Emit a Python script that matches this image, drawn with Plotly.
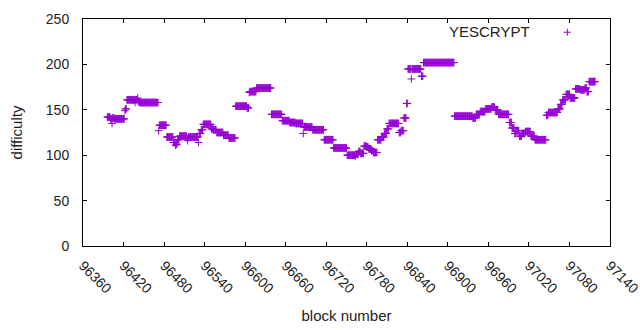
import plotly.graph_objects as go

# Difficulty per block, stored as runs of constant difficulty
run_start = [96396, 96401, 96403, 96404, 96407, 96422, 96423, 96425, 96437, 96438,
             96441, 96442, 96444, 96472, 96473, 96484, 96494, 96497, 96498, 96500,
             96503, 96514, 96515, 96516, 96531, 96532, 96535, 96538, 96550, 96553,
             96558, 96568, 96576, 96586, 96603, 96606, 96607, 96617, 96639, 96655,
             96666, 96675, 96686, 96687, 96700, 96717, 96731, 96751, 96763, 96764,
             96768, 96771, 96776, 96780, 96783, 96787, 96790, 96796, 96802, 96806,
             96810, 96813, 96828, 96831, 96835, 96839, 96841, 96846, 96847, 96861,
             96864, 96910, 96937, 96942, 96948, 96956, 96965, 96970, 96975, 96991,
             96995, 96999, 97001, 97006, 97010, 97015, 97023, 97029, 97046, 97049,
             97063, 97067, 97070, 97075, 97081, 97089, 97096, 97103, 97106, 97109]
run_end = [96400, 96402, 96403, 96406, 96421, 96422, 96424, 96436, 96437, 96440,
           96441, 96443, 96471, 96472, 96483, 96493, 96496, 96497, 96499, 96502,
           96513, 96514, 96515, 96530, 96531, 96534, 96537, 96549, 96552, 96557,
           96567, 96575, 96585, 96602, 96605, 96606, 96616, 96638, 96654, 96665,
           96674, 96685, 96686, 96699, 96716, 96730, 96750, 96762, 96763, 96767,
           96770, 96775, 96779, 96782, 96786, 96789, 96795, 96801, 96805, 96809,
           96812, 96827, 96830, 96834, 96838, 96840, 96845, 96846, 96860, 96863,
           96909, 96936, 96941, 96947, 96955, 96964, 96969, 96974, 96990, 96994,
           96998, 97000, 97005, 97009, 97014, 97022, 97028, 97045, 97048, 97062,
           97066, 97069, 97074, 97080, 97088, 97095, 97102, 97105, 97108, 97118]
run_difficulty = [142, 140, 135, 141, 140, 149, 151, 161, 158, 161,
                  163, 159, 158, 127, 133, 120, 114, 111, 112, 117,
                  121, 119, 116, 120, 114, 124, 128, 134, 129, 128,
                  125, 122, 119, 154, 152, 169, 170, 174, 145, 138,
                  136, 135, 124, 131, 128, 117, 108, 100, 99, 101,
                  104, 102, 110, 109, 107, 105, 103, 117, 120, 124,
                  129, 135, 125, 127, 141, 157, 195, 184, 195, 187,
                  202, 143, 141, 145, 148, 151, 153, 150, 145, 136,
                  130, 124, 127, 121, 124, 126, 121, 117, 144, 147,
                  151, 156, 161, 167, 163, 173, 172, 174, 170, 181]

x_ticks = [96360, 96420, 96480, 96540, 96600, 96660, 96720, 96780, 96840,
           96900, 96960, 97020, 97080, 97140]
y_ticks = [0, 50, 100, 150, 200, 250]
series_name = "YESCRYPT"

blocks, diffs = [], []
for s, e, v in zip(run_start, run_end, run_difficulty):
    for b in range(s, e + 1):
        blocks.append(b)
        diffs.append(v)

color = "#9400D3"
FONT = "Liberation Sans, Arial, sans-serif"

fig = go.Figure()
fig.add_trace(go.Scatter(
    x=blocks, y=diffs, mode="markers", name=series_name, showlegend=False,
    marker=dict(symbol="cross-thin", size=5.5, color=color,
                line=dict(color=color, width=1)),
))

axis_common = dict(showgrid=False, zeroline=False, showline=True, mirror="ticks",
                   linecolor="black", linewidth=1, ticks="inside", ticklen=4,
                   tickcolor="black", tickwidth=1, automargin=False,
                   ticklabeloverflow="allow",
                   tickfont=dict(family=FONT, size=14, color="#222"))

fig.update_layout(
    width=640, height=330,
    margin=dict(l=83, r=30, t=19, b=84),
    paper_bgcolor="white", plot_bgcolor="white",
    font=dict(family=FONT, size=14, color="#222"),
    xaxis=dict(range=[x_ticks[0], x_ticks[-1]], tickvals=x_ticks,
               ticktext=[str(t) for t in x_ticks], tickangle=45,
               ticklabelstandoff=5,
               title=dict(text="block number", font=dict(family=FONT, size=15), standoff=14),
               **axis_common),
    yaxis=dict(range=[y_ticks[0], y_ticks[-1]], tickvals=y_ticks,
               ticklabelstandoff=10,
               title=dict(text="difficulty", font=dict(family=FONT, size=15), standoff=19),
               **axis_common),
    annotations=[dict(text=series_name, xref="paper", yref="paper", x=0.852, y=0.946,
                      xanchor="right", yanchor="middle", showarrow=False,
                      font=dict(family=FONT, size=15, color="#222"))],
    shapes=[
        dict(type="line", xref="paper", yref="paper", x0=0.912, x1=0.926,
             y0=0.9417, y1=0.9417, line=dict(color=color, width=1)),
        dict(type="line", xref="paper", yref="paper", x0=0.919, x1=0.919,
             y0=0.926, y1=0.957, line=dict(color=color, width=1)),
    ],
)

fig.write_html("out.html", config={"displayModeBar": False},
               post_script="document.body.style.margin='0';")
